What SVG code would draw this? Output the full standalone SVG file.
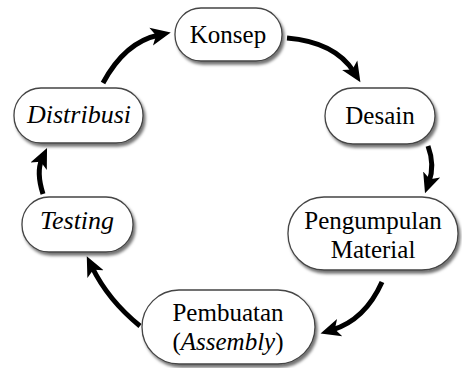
<svg xmlns="http://www.w3.org/2000/svg" width="462" height="368" viewBox="0 0 462 368">
<style>
.node rect{fill:#fff;stroke:#444;stroke-width:1.3;filter:url(#sh)}
.node text{font-size:25px;fill:#000;text-anchor:middle}
.node text.it{font-style:italic;font-size:26px}
.conn path{fill:none;stroke:#000;stroke-width:5;marker-end:url(#ah)}
</style>
<defs>
<filter id="sh" x="-20%" y="-20%" width="140%" height="150%">
<feDropShadow dx="2" dy="3" stdDeviation="1.8" flood-color="#000" flood-opacity="0.55"/>
</filter>
<marker id="ah" viewBox="0 -11 22 22" refX="8" refY="0" markerWidth="22" markerHeight="22" markerUnits="userSpaceOnUse" orient="auto">
<path d="M0,-9 L20,0 L0,9 L5,0 Z" fill="#000"/>
</marker>
</defs>
<rect width="462" height="368" fill="#fff"/>
<g class="conn">
<path d="M287,38 Q335,42 354,72"/>
<path d="M428,146 Q435,165 429,182"/>
<path d="M382,282 Q365,320 332,330"/>
<path d="M140,326 Q108,300 92,267"/>
<path d="M43,194 Q36,172 42,159"/>
<path d="M103,83 Q125,42 159,35"/>
</g>
<g font-family="'Liberation Serif', 'DejaVu Serif', serif">
<g id="konsep" class="node"><rect x="175" y="8" width="107" height="53" rx="26"/><text x="228" y="43">Konsep</text></g>
<g id="desain" class="node"><rect x="325" y="88" width="110" height="56" rx="28"/><text x="380" y="124">Desain</text></g>
<g id="pengumpulan" class="node"><rect x="288" y="197" width="170" height="73" rx="36"/><text x="373" y="229">Pengumpulan</text><text x="373" y="258">Material</text></g>
<g id="pembuatan" class="node"><rect x="142" y="290" width="173" height="74" rx="37"/><text x="228" y="321">Pembuatan</text><text x="228" y="350">(<tspan font-style="italic">Assembly</tspan>)</text></g>
<g id="testing" class="node"><rect x="22" y="197" width="111" height="55" rx="27"/><text class="it" x="77" y="229">Testing</text></g>
<g id="distribusi" class="node"><rect x="14" y="88" width="129" height="55" rx="27"/><text class="it" x="79" y="123">Distribusi</text></g>
</g>
</svg>
